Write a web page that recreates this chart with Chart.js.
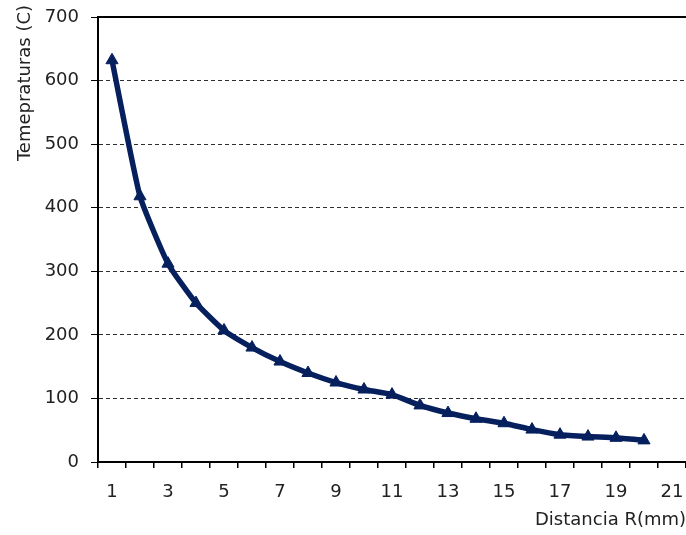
<!DOCTYPE html>
<html>
<head>
<meta charset="utf-8">
<script src="https://cdn.jsdelivr.net/npm/chart.js@4/dist/chart.umd.min.js"></script>
<style>
  html, body { margin: 0; padding: 0; background: #ffffff; overflow: hidden; }
  #wrap { width: 686px; height: 535px; position: relative; }
</style>
</head>
<body>
<div id="wrap"><canvas id="chart"></canvas></div>
<script>
// categories on the x axis (distance in mm)
const distances = ["1", "2", "3", "4", "5", "6", "7", "8", "9", "10", "11",
  "12", "13", "14", "15", "16", "17", "18", "19", "20", "21"];

// temperature readings, one per distance (no reading at 21)
const temperatures = [632, 418, 312, 250, 207, 180, 158, 140, 125, 114, 106,
  89, 77, 68, 61, 51, 43, 40, 38, 34];

const yTicks = [0, 100, 200, 300, 400, 500, 600, 700];

const yTitle = "Temepraturas (C)";
const xTitle = "Distancia R(mm)";

const lineColor = "#06205e";
const textColor = "#222222";
const fontFamily = "'DejaVu Sans', Verdana, sans-serif";
const fontSize = 18;

// top frame line of the plot area, and the y title which sits above the plot top
const frameAndTitle = {
  id: "frameAndTitle",
  afterDraw(chart) {
    const { ctx, chartArea } = chart;
    ctx.save();
    ctx.strokeStyle = "#000000";
    ctx.lineWidth = 2;
    ctx.beginPath();
    ctx.moveTo(chartArea.left, chartArea.top);
    ctx.lineTo(chartArea.right, chartArea.top);
    ctx.stroke();

    ctx.translate(25, chartArea.top - 12);
    ctx.rotate(-Math.PI / 2);
    ctx.fillStyle = textColor;
    ctx.font = `${fontSize}px ${fontFamily}`;
    ctx.textAlign = "right";
    ctx.textBaseline = "middle";
    ctx.fillText(yTitle, 0, 0);
    ctx.restore();
  }
};

const ctx = document.getElementById("chart").getContext("2d");

new Chart(ctx, {
  type: "line",
  data: {
    labels: distances,
    datasets: [
      {
        label: "Temperatura",
        data: temperatures,
        borderColor: lineColor,
        backgroundColor: lineColor,
        borderWidth: 5.5,
        tension: 0.15,
        pointStyle: "triangle",
        pointRadius: 7,
        pointHoverRadius: 7,
        pointBackgroundColor: lineColor,
        pointBorderColor: lineColor,
        pointBorderWidth: 1,
        fill: false,
        clip: 8
      }
    ]
  },
  options: {
    responsive: true,
    maintainAspectRatio: false,
    animation: false,
    layout: { autoPadding: false, padding: { top: 17, right: 0, bottom: 0, left: 0 } },
    plugins: {
      legend: { display: false },
      tooltip: { enabled: false }
    },
    scales: {
      x: {
        type: "category",
        offset: true,
        afterFit(scale) {
          scale.height = 73;
          scale.paddingLeft = 0;
          scale.paddingRight = 0;
        },
        grid: {
          offset: true,
          drawOnChartArea: false,
          drawTicks: true,
          tickLength: 6,
          tickColor: "#000000",
          lineWidth: 1.5
        },
        border: { display: true, color: "#000000", width: 2 },
        ticks: {
          autoSkip: false,
          maxRotation: 0,
          padding: 14,
          color: textColor,
          font: { family: fontFamily, size: fontSize },
          callback(value, index) {
            return index % 2 === 0 ? this.getLabelForValue(value) : "";
          }
        },
        title: {
          display: true,
          text: xTitle,
          align: "end",
          color: textColor,
          font: { family: fontFamily, size: fontSize },
          padding: { top: 4, bottom: 4 }
        }
      },
      y: {
        min: 0,
        max: 700,
        afterFit(scale) {
          scale.width = 98;
          scale.paddingTop = 0;
          scale.paddingBottom = 0;
        },
        afterBuildTicks(scale) {
          scale.ticks = yTicks.map((v) => ({ value: v }));
        },
        grid: {
          drawTicks: true,
          tickLength: 7,
          tickColor: "#000000",
          lineWidth: 1,
          color(context) {
            const v = context.tick ? context.tick.value : null;
            return v === 0 || v === 700 ? "rgba(0,0,0,0)" : "#2e2e2e";
          }
        },
        border: { display: true, color: "#000000", width: 2, dash: [4, 3] },
        ticks: {
          padding: 12,
          color: textColor,
          font: { family: fontFamily, size: fontSize }
        }
      }
    }
  },
  plugins: [frameAndTitle]
});
</script>
</body>
</html>
